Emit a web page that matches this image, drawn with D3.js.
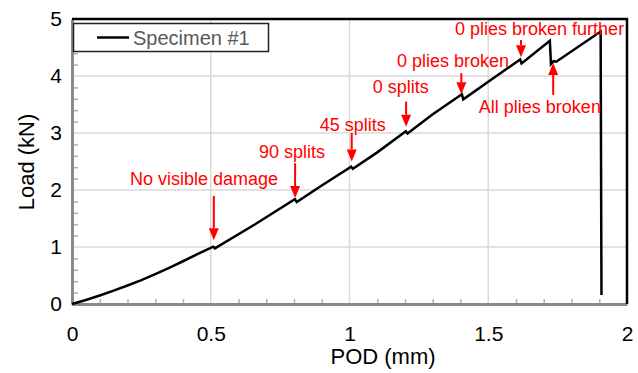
<!DOCTYPE html>
<html>
<head>
<meta charset="utf-8">
<script src="https://cdn.jsdelivr.net/npm/d3@7"></script>
<style>
  body { margin: 0; background: #fff; }
  text { font-family: "Liberation Sans", Arial, sans-serif; }
</style>
</head>
<body>
<div id="vis"></div>
<script>
// data: POD (mm) vs load (kN)
const podValues = [0, 0.05, 0.1, 0.15, 0.2, 0.25, 0.3, 0.35, 0.4, 0.45, 0.509, 0.515, 0.66, 0.803, 0.81,
    0.9, 1.006, 1.012, 1.1, 1.203, 1.209, 1.3, 1.405, 1.41, 1.5, 1.615, 1.62, 1.722, 1.726, 1.735, 1.745,
    1.905, 1.908];
const loadValues = [0, 0.07, 0.15, 0.235, 0.325, 0.42, 0.525, 0.635, 0.75, 0.87, 1.005, 0.975, 1.40, 1.84, 1.79,
    2.08, 2.41, 2.37, 2.66, 3.03, 2.99, 3.33, 3.68, 3.59, 3.90, 4.29, 4.22, 4.62, 4.21, 4.26, 4.25,
    4.78, 0.16];
const seriesName = "Specimen #1";

// axis ticks
const xTicks = [0, 0.5, 1, 1.5, 2];
const xTickLabels = ["0", "0.5", "1", "1.5", "2"];
const yTicks = [0, 1, 2, 3, 4, 5];
const yTickLabels = ["0", "1", "2", "3", "4", "5"];
const xMinorTicks = [0.1, 0.2, 0.3, 0.4, 0.6, 0.7, 0.8, 0.9, 1.1, 1.2, 1.3, 1.4, 1.6, 1.7, 1.8, 1.9];
const yMinorTicks = [0.2, 0.4, 0.6, 0.8, 1.2, 1.4, 1.6, 1.8, 2.2, 2.4, 2.6, 2.8, 3.2, 3.4, 3.6, 3.8, 4.2, 4.4, 4.6, 4.8];

// damage annotations (arrow in data units, label anchor in data units)
const annLabels = ["No visible damage", "90 splits", "45 splits", "0 splits", "0 plies broken",
    "0 plies broken further", "All plies broken"];
const annPod = [0.511, 0.804, 1.008, 1.204, 1.403, 1.618, 1.734];
const annTipLoad = [1.12, 1.86, 2.50, 3.11, 3.68, 4.33, 4.23];
const annTailLoad = [1.895, 2.47, 3.0, 3.55, 4.05, 4.63, 3.67];
const annLabelPod = [0.476, 0.793, 1.012, 1.185, 1.373, 1.685, 1.686];
const annLabelLoad = [2.088, 2.561, 3.039, 3.696, 4.158, 4.719, 3.351];

const svg = d3.select("#vis")
    .append('svg')
    .attr("width", "638")
    .attr("height", "373");

const x = d3.scaleLinear().domain([0, 2]).range([72, 627]);
const y = d3.scaleLinear().domain([0, 5]).range([304, 19]);

// gridlines
svg.append('g')
    .selectAll('line')
    .data(xTicks.slice(1, -1))
    .enter()
    .append('line')
    .attr('x1', d => x(d)).attr('x2', d => x(d))
    .attr('y1', y(0)).attr('y2', y(5))
    .attr('stroke', '#d9d9d9')
    .attr('stroke-width', 1.5);

svg.append('g')
    .selectAll('line')
    .data(yTicks.slice(1, -1))
    .enter()
    .append('line')
    .attr('x1', x(0)).attr('x2', x(2))
    .attr('y1', d => y(d)).attr('y2', d => y(d))
    .attr('stroke', '#d9d9d9')
    .attr('stroke-width', 1.5);

// minor ticks (inside)
const xMinor = svg.append('g')
    .attr('transform', `translate(0,${y(0)})`)
    .call(d3.axisBottom(x).tickValues(xMinorTicks).tickSize(-5).tickFormat(""));
xMinor.select('.domain').remove();
xMinor.selectAll('line').attr('stroke', '#b0b0b0').attr('stroke-width', 1.5);

const yMinor = svg.append('g')
    .attr('transform', `translate(${x(0)},0)`)
    .call(d3.axisLeft(y).tickValues(yMinorTicks).tickSize(-6).tickFormat(""));
yMinor.select('.domain').remove();
yMinor.selectAll('line').attr('stroke', '#b0b0b0').attr('stroke-width', 1.5);

// main axes with labels
const xAxis = svg.append('g')
    .attr('transform', `translate(0,${y(0)})`)
    .call(d3.axisBottom(x).tickValues(xTicks).tickSize(0).tickPadding(22)
        .tickFormat((d, i) => xTickLabels[i]));
xAxis.select('.domain').attr('stroke', '#8a8a8a').attr('stroke-width', 3);
xAxis.selectAll('text')
    .attr('font-size', 21)
    .attr('font-family', '"Liberation Sans", Arial, sans-serif')
    .attr('fill', '#000');

const yAxis = svg.append('g')
    .attr('transform', `translate(${x(0)},0)`)
    .call(d3.axisLeft(y).tickValues(yTicks).tickSize(0).tickPadding(10)
        .tickFormat((d, i) => yTickLabels[i]));
yAxis.select('.domain').attr('stroke', '#8a8a8a').attr('stroke-width', 3);
yAxis.selectAll('text')
    .attr('font-size', 21)
    .attr('font-family', '"Liberation Sans", Arial, sans-serif')
    .attr('fill', '#000');

// top and right frame
svg.append('path')
    .attr('d', `M${x(0)},${y(5)}H${x(2)}V${y(0)}`)
    .attr('fill', 'none')
    .attr('stroke', '#000')
    .attr('stroke-width', 2.5);

// axis titles
svg.append('text')
    .attr('x', 383)
    .attr('y', 364)
    .attr('text-anchor', 'middle')
    .attr('font-size', 22)
    .attr('fill', '#000')
    .text("POD (mm)");

svg.append('text')
    .attr('transform', 'translate(34,162) rotate(-90)')
    .attr('text-anchor', 'middle')
    .attr('font-size', 22)
    .attr('fill', '#000')
    .text("Load (kN)");

// curve
const line = d3.line()
    .x((d, i) => x(podValues[i]))
    .y((d, i) => y(loadValues[i]));

svg.append('path')
    .datum(podValues)
    .attr('d', line)
    .attr('fill', 'none')
    .attr('stroke', '#000')
    .attr('stroke-width', 2.5)
    .attr('stroke-linejoin', 'miter');

// legend
svg.append('rect')
    .attr('x', 73.5)
    .attr('y', 23.5)
    .attr('width', 195)
    .attr('height', 28)
    .attr('fill', '#fff')
    .attr('stroke', '#222')
    .attr('stroke-width', 1.5);

svg.append('line')
    .attr('x1', 97).attr('x2', 129)
    .attr('y1', 37.5).attr('y2', 37.5)
    .attr('stroke', '#000')
    .attr('stroke-width', 2.5);

svg.append('text')
    .attr('x', 133)
    .attr('y', 45)
    .attr('font-size', 20)
    .attr('fill', '#595959')
    .text(seriesName);

// annotations
const red = '#ff0000';
const ann = svg.append('g').attr('class', 'annotations');

annLabels.forEach(function (label, i) {
    const ax = x(annPod[i]);
    const tipY = y(annTipLoad[i]);
    const tailY = y(annTailLoad[i]);
    const dir = tipY > tailY ? 1 : -1; // 1 = pointing down
    const headLen = 12;
    const headHalf = 5;

    ann.append('line')
        .attr('x1', ax).attr('x2', ax)
        .attr('y1', tailY).attr('y2', tipY - dir * headLen)
        .attr('stroke', red)
        .attr('stroke-width', 2);

    ann.append('path')
        .attr('d', `M${ax},${tipY}L${ax - headHalf},${tipY - dir * headLen}L${ax + headHalf},${tipY - dir * headLen}Z`)
        .attr('fill', red);

    ann.append('text')
        .attr('x', x(annLabelPod[i]))
        .attr('y', y(annLabelLoad[i]))
        .attr('text-anchor', 'middle')
        .attr('font-size', 18)
        .attr('fill', red)
        .text(label);
});
</script>
</body>
</html>
